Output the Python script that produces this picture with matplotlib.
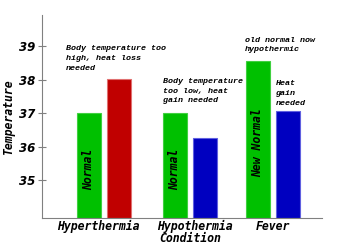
import matplotlib
matplotlib.use("Agg")
import matplotlib.pyplot as plt
import numpy as np

# data
conditions = ['Hyperthermia', 'Hypothermia', 'Fever']
normal_temps = [37.0, 37.0, 38.55]
actual_temps = [38.03, 36.25, 37.06]
actual_colors = ['#c00000', '#0000c0', '#0000c0']
actual_edges = ['#e07070', '#6060e0', '#6060e0']
normal_labels = ['Normal', 'Normal', 'New Normal']
notes = [
    (-0.442, 39.02, 'Body temperature too\nhigh, heat loss\nneeded'),
    (0.70, 38.05, 'Body temperature\ntoo low, heat\ngain needed'),
    (1.67, 39.28, 'old normal now\nhypothermic'),
    (2.03, 37.98, 'Heat\ngain\nneeded'),
]

mono = 'DejaVu Sans Mono'
note_font = 'Liberation Mono'
x = np.array([0, 1.015, 2])
tick_pos = [-0.065, 1.08, 2.0]
w = 0.283
off = 0.177
base = 33.86

fig = plt.figure(figsize=(3.5, 2.48), dpi=100)
ax = fig.add_axes([0.12, 0.12, 0.80, 0.82])

ax.bar(x - off, [t - base for t in normal_temps], w, bottom=base,
       color='#00c000', edgecolor='#40d040', linewidth=0.8)
ax.bar(x + off, [t - base for t in actual_temps], w, bottom=base,
       color=actual_colors, edgecolor=actual_edges, linewidth=0.8)

for i, lab in enumerate(normal_labels):
    ymid = 35.33 if lab == 'Normal' else 36.13
    ax.text(x[i] - off, ymid, lab, rotation=90, ha='center', va='center',
            family=mono, fontweight='bold', fontstyle='italic', fontsize=8.3)

for nx, ny, txt in notes:
    ax.text(nx, ny, txt, ha='left', va='top', family=note_font,
            fontweight='bold', fontstyle='italic', fontsize=6, linespacing=1.55)

ax.set_xlim(-0.726, 2.578)
ax.set_ylim(base, 39.93)
ax.set_yticks([35, 36, 37, 38, 39])
ax.set_xticks(tick_pos)
ax.set_xticklabels(conditions, family=mono, fontweight='bold',
                   fontstyle='italic', fontsize=8.3)
for lbl in ax.get_yticklabels():
    lbl.set_fontweight('bold')
    lbl.set_fontstyle('italic')
    lbl.set_fontsize(8.5)

ax.tick_params(axis='y', direction='inout', length=6, color='#808080', pad=2)
ax.tick_params(axis='x', length=0, pad=1)

for s in ['top', 'right']:
    ax.spines[s].set_visible(False)
for s in ['left', 'bottom']:
    ax.spines[s].set_color('#808080')

ax.set_ylabel('Temperature', family=mono, fontweight='bold',
              fontstyle='italic', fontsize=8.3)
ax.yaxis.set_label_coords(-0.095, 0.5)
ax.set_xlabel('Condition', family=mono, fontweight='bold',
              fontstyle='italic', fontsize=8.3, va='center')
ax.xaxis.set_label_coords(0.529, -0.099)

fig.savefig('out.png', dpi=100)
